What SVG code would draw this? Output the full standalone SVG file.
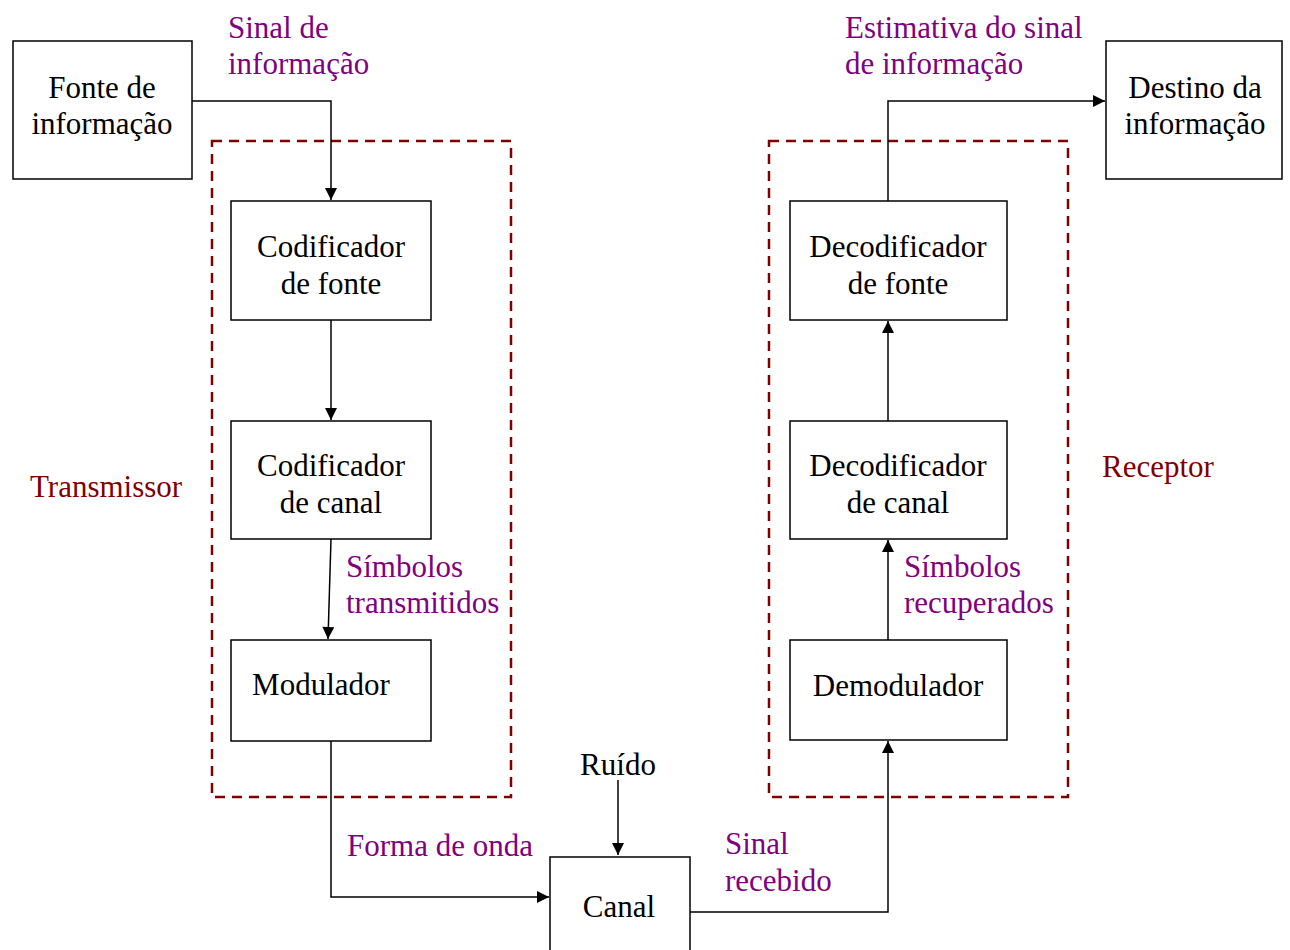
<svg xmlns="http://www.w3.org/2000/svg" width="1290" height="950" viewBox="0 0 1290 950">
<style>
text{font-family:"Liberation Serif","Times New Roman",serif;font-size:31px}
.n{fill:#000}
.c{text-anchor:middle}
.p{fill:#800080}
.r{fill:#800000}
.box{fill:#fff;stroke:#000;stroke-width:1.5}
.dash{fill:none;stroke:#800000;stroke-width:2.5;stroke-dasharray:10 7}
.ln{fill:none;stroke:#000;stroke-width:1.5}
</style>
<defs>
<marker id="ah" viewBox="0 0 10 10" refX="10" refY="5" markerWidth="13" markerHeight="12" markerUnits="userSpaceOnUse" orient="auto">
<path d="M0,0 L10,5 L0,10 z" fill="#000"/>
</marker>
</defs>
<rect width="1290" height="950" fill="#fff"/>
<g id="groups">
<rect class="dash" x="212" y="141" width="299" height="656"/>
<rect class="dash" x="769" y="141" width="299" height="656"/>
</g>
<g id="connectors">
<path class="ln" d="M192,101 H331 V200" marker-end="url(#ah)"/>
<path class="ln" d="M331,320 V420" marker-end="url(#ah)"/>
<path class="ln" d="M331,539 L328,639" marker-end="url(#ah)"/>
<path class="ln" d="M331,741 V897 H549" marker-end="url(#ah)"/>
<path class="ln" d="M618,780 V855" marker-end="url(#ah)"/>
<path class="ln" d="M690,912 H888 V741" marker-end="url(#ah)"/>
<path class="ln" d="M888,640 V540" marker-end="url(#ah)"/>
<path class="ln" d="M888,421 V321" marker-end="url(#ah)"/>
<path class="ln" d="M888,201 V101 H1105" marker-end="url(#ah)"/>
</g>
<g id="fonte">
<rect class="box" x="13" y="41" width="179" height="138"/>
<text class="n c" x="102" y="98">Fonte de</text>
<text class="n c" x="102" y="134">informação</text>
</g>
<g id="cod-fonte">
<rect class="box" x="231" y="201" width="200" height="119"/>
<text class="n c" x="331" y="257">Codificador</text>
<text class="n c" x="331" y="294">de fonte</text>
</g>
<g id="cod-canal">
<rect class="box" x="231" y="421" width="200" height="118"/>
<text class="n c" x="331" y="476">Codificador</text>
<text class="n c" x="331" y="513">de canal</text>
</g>
<g id="modulador">
<rect class="box" x="231" y="640" width="200" height="101"/>
<text class="n c" x="321" y="695">Modulador</text>
</g>
<g id="canal">
<rect class="box" x="550" y="857" width="140" height="110"/>
<text class="n c" x="619" y="917">Canal</text>
</g>
<g id="ruido">
<text class="n c" x="618" y="775">Ruído</text>
</g>
<g id="demodulador">
<rect class="box" x="790" y="640" width="217" height="100"/>
<text class="n c" x="898" y="696">Demodulador</text>
</g>
<g id="dec-canal">
<rect class="box" x="790" y="421" width="217" height="118"/>
<text class="n c" x="898" y="476">Decodificador</text>
<text class="n c" x="898" y="513">de canal</text>
</g>
<g id="dec-fonte">
<rect class="box" x="790" y="201" width="217" height="119"/>
<text class="n c" x="898" y="257">Decodificador</text>
<text class="n c" x="898" y="294">de fonte</text>
</g>
<g id="destino">
<rect class="box" x="1106" y="41" width="176" height="138"/>
<text class="n c" x="1195" y="98">Destino da</text>
<text class="n c" x="1195" y="134">informação</text>
</g>
<g id="labels">
<text class="p" x="228" y="38">Sinal de</text>
<text class="p" x="228" y="74">informação</text>
<text class="r" x="30" y="497">Transmissor</text>
<text class="p" x="346" y="577">Símbolos</text>
<text class="p" x="346" y="613">transmitidos</text>
<text class="p" x="347" y="856">Forma de onda</text>
<text class="p" x="725" y="854">Sinal</text>
<text class="p" x="725" y="891">recebido</text>
<text class="p" x="904" y="577">Símbolos</text>
<text class="p" x="904" y="613">recuperados</text>
<text class="r" x="1102" y="477">Receptor</text>
<text class="p" x="845" y="38">Estimativa do sinal</text>
<text class="p" x="845" y="74">de informação</text>
</g>
</svg>
